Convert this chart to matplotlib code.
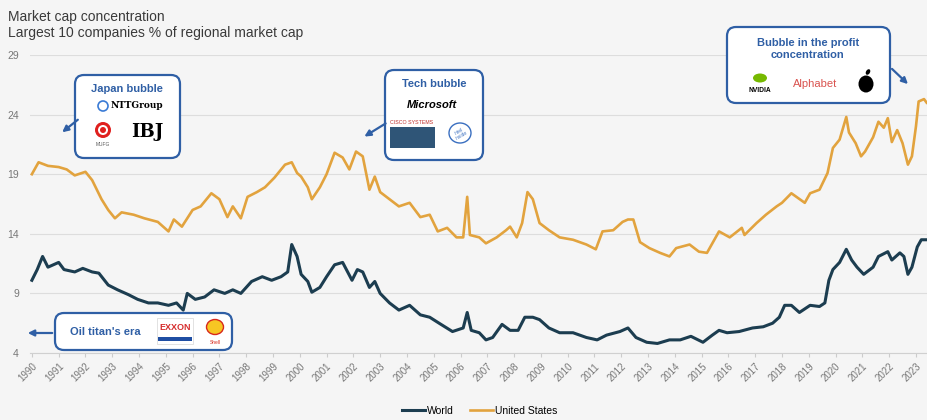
import matplotlib
matplotlib.use("Agg")
import matplotlib.pyplot as plt
from matplotlib.patches import FancyBboxPatch, Circle, Ellipse, Rectangle

plt.rcParams['font.family'] = ['Liberation Sans', 'DejaVu Sans']

# ---- data ----
us_years = [1990.0, 1990.25, 1990.6, 1991.0, 1991.3, 1991.6, 1992.0, 1992.25, 1992.6, 1992.85,
            1993.1, 1993.35, 1993.8, 1994.2, 1994.7, 1995.1, 1995.3, 1995.6, 1996.0, 1996.3,
            1996.7, 1997.0, 1997.3, 1997.5, 1997.8, 1998.05, 1998.4, 1998.7, 1999.05, 1999.45,
            1999.7, 1999.9, 2000.05, 2000.3, 2000.45, 2000.75, 2001.0, 2001.3, 2001.6, 2001.85,
            2002.1, 2002.35, 2002.6, 2002.8, 2003.0, 2003.35, 2003.7, 2004.1, 2004.5, 2004.85,
            2005.15, 2005.5, 2005.85, 2006.1, 2006.25, 2006.35, 2006.7, 2006.95, 2007.35, 2007.7,
            2007.85, 2008.1, 2008.3, 2008.5, 2008.7, 2008.95, 2009.3, 2009.7, 2010.2, 2010.7,
            2011.05, 2011.3, 2011.7, 2012.05, 2012.25, 2012.45, 2012.7, 2013.05, 2013.45, 2013.8,
            2014.05, 2014.55, 2014.9, 2015.2, 2015.65, 2016.05, 2016.5, 2016.6, 2017.05, 2017.4,
            2017.8, 2018.0, 2018.35, 2018.6, 2018.85, 2019.05, 2019.4, 2019.7, 2019.9, 2020.15,
            2020.4, 2020.5, 2020.75, 2020.95, 2021.1, 2021.4, 2021.6, 2021.8, 2021.95, 2022.1,
            2022.3, 2022.5, 2022.7, 2022.85, 2023.0, 2023.1, 2023.3, 2023.4]
us_vals = [19.0, 20.0, 19.7, 19.6, 19.4, 18.9, 19.2, 18.5, 16.9, 16.0,
           15.3, 15.8, 15.6, 15.3, 15.0, 14.2, 15.2, 14.6, 16.0, 16.3,
           17.4, 16.9, 15.4, 16.3, 15.3, 17.1, 17.5, 17.9, 18.7, 19.8,
           20.0, 19.1, 18.8, 17.9, 16.9, 17.9, 19.0, 20.8, 20.4, 19.4,
           20.9, 20.5, 17.7, 18.8, 17.5, 16.9, 16.3, 16.6, 15.4, 15.6,
           14.2, 14.5, 13.7, 13.7, 17.1, 13.9, 13.7, 13.2, 13.7, 14.3,
           14.6, 13.7, 14.9, 17.5, 16.9, 14.9, 14.3, 13.7, 13.5, 13.1,
           12.7, 14.2, 14.3, 15.0, 15.2, 15.2, 13.3, 12.8, 12.4, 12.1,
           12.8, 13.1, 12.5, 12.4, 14.2, 13.7, 14.5, 13.9, 14.9, 15.6,
           16.3, 16.6, 17.4, 17.0, 16.6, 17.4, 17.7, 19.1, 21.2, 21.9,
           23.8, 22.5, 21.6, 20.5, 20.9, 22.1, 23.4, 22.9, 23.7, 21.7,
           22.7, 21.6, 19.8, 20.5, 23.0, 25.1, 25.3, 25.0]

world_years = [1990.0, 1990.2, 1990.4, 1990.6, 1991.0, 1991.2, 1991.6, 1991.9, 1992.25, 1992.5,
               1992.85, 1993.2, 1993.6, 1993.95, 1994.35, 1994.7, 1995.1, 1995.4, 1995.65, 1995.8,
               1996.1, 1996.45, 1996.8, 1997.2, 1997.5, 1997.8, 1998.2, 1998.6, 1998.95, 1999.3,
               1999.55, 1999.7, 1999.9, 2000.05, 2000.3, 2000.45, 2000.75, 2001.0, 2001.3, 2001.6,
               2001.95, 2002.15, 2002.35, 2002.6, 2002.8, 2003.0, 2003.35, 2003.7, 2004.1, 2004.5,
               2004.85, 2005.2, 2005.7, 2006.1, 2006.25, 2006.4, 2006.7, 2006.95, 2007.2, 2007.55,
               2007.85, 2008.15, 2008.4, 2008.7, 2008.95, 2009.3, 2009.7, 2010.2, 2010.7, 2011.1,
               2011.45, 2011.95, 2012.25, 2012.55, 2012.95, 2013.35, 2013.8, 2014.2, 2014.6, 2015.05,
               2015.4, 2015.65, 2015.95, 2016.4, 2016.9, 2017.3, 2017.65, 2017.9, 2018.1, 2018.35,
               2018.65, 2019.05, 2019.4, 2019.6, 2019.75, 2019.9, 2020.15, 2020.4, 2020.6, 2020.8,
               2021.05, 2021.4, 2021.6, 2021.95, 2022.1, 2022.4, 2022.55, 2022.7, 2022.85, 2023.05,
               2023.2, 2023.4]
world_vals = [10.1, 11.0, 12.1, 11.2, 11.6, 11.0, 10.8, 11.1, 10.8, 10.7,
              9.7, 9.3, 8.9, 8.5, 8.2, 8.2, 8.0, 8.2, 7.6, 9.0,
              8.5, 8.7, 9.3, 9.0, 9.3, 9.0, 10.0, 10.4, 10.1, 10.4,
              10.8, 13.1, 12.1, 10.6, 10.0, 9.1, 9.5, 10.4, 11.4, 11.6,
              10.1, 11.0, 10.8, 9.5, 10.0, 9.0, 8.2, 7.6, 8.0, 7.2,
              7.0, 6.5, 5.8, 6.1, 7.4, 5.9, 5.7, 5.1, 5.3, 6.4,
              5.9, 5.9, 7.0, 7.0, 6.8, 6.1, 5.7, 5.7, 5.3, 5.1,
              5.5, 5.8, 6.1, 5.3, 4.9, 4.8, 5.1, 5.1, 5.4, 4.9,
              5.5, 5.9, 5.7, 5.8, 6.1, 6.2, 6.5, 7.0, 8.0, 8.0,
              7.4, 8.0, 7.9, 8.2, 10.1, 11.0, 11.6, 12.7, 11.8, 11.2,
              10.6, 11.2, 12.1, 12.5, 11.8, 12.4, 12.1, 10.6, 11.2, 12.9,
              13.5, 13.5]

year_ticks = list(range(1990, 2024))
y_ticks = [4, 9, 14, 19, 24, 29]

blue = '#2f5fa5'
bg = '#f5f5f5'

# ---- figure ----
fig = plt.figure(figsize=(9.28, 4.2), dpi=100, facecolor=bg)
ax = fig.add_axes([30 / 928, 1 - 353 / 420, 898 / 928, 298 / 420], facecolor=bg)

ax.plot(world_years, world_vals, color='#1c3d50', lw=2.2, label='World', zorder=3)
ax.plot(us_years, us_vals, color='#e2a33e', lw=1.9, label='United States', zorder=3)

ax.set_xlim(1989.93, 2023.45)
ax.set_ylim(4, 29)
ax.set_yticks(y_ticks)
ax.set_xticks(year_ticks)
ax.set_xticklabels([str(y) for y in year_ticks], rotation=45, ha='right',
                   rotation_mode='anchor', fontsize=7, color='#777777')
ax.tick_params(axis='x', length=3, color='#cccccc', pad=3)
ax.tick_params(axis='y', length=0, labelsize=7.5, labelcolor='#777777', pad=8)
ax.grid(axis='y', color='#dddddd', lw=0.8)
ax.set_axisbelow(True)
for s in ['top', 'right', 'left']:
    ax.spines[s].set_visible(False)
ax.spines['bottom'].set_color('#d0d0d0')

fig.legend(loc='lower center', bbox_to_anchor=(0.517, -0.012), ncol=2, frameon=False,
           fontsize=7.5, handlelength=2.2, handletextpad=0.2, columnspacing=1.5)

# ---- overlay in pixel coordinates for titles and call-out boxes ----
ov = fig.add_axes([0, 0, 1, 1], zorder=5)
ov.set_xlim(0, 928)
ov.set_ylim(420, 0)
ov.axis('off')

ov.text(8, 17, 'Market cap concentration', fontsize=10, color='#3a3a3a', va='center')
ov.text(8, 33, 'Largest 10 companies % of regional market cap', fontsize=10,
        color='#3a3a3a', va='center')


def box(x, y, w, h):
    ov.add_patch(FancyBboxPatch((x, y), w, h, boxstyle='round,pad=0,rounding_size=9',
                                fc='white', ec=blue, lw=1.6))


def arrow(x0, y0, x1, y1):
    ov.annotate('', xy=(x1, y1), xytext=(x0, y0),
                arrowprops=dict(arrowstyle='-|>', color=blue, lw=1.6, mutation_scale=9))


# Japan bubble
box(75, 75, 105, 83)
arrow(80, 118, 60, 134)
ov.text(127, 89, 'Japan bubble', fontsize=8, fontweight='bold', color=blue, ha='center', va='center')
ov.add_patch(Circle((103, 106), 5, fc='none', ec='#3a7bd5', lw=1.2))
ov.text(111, 106, 'NTTGroup', fontsize=6.5, fontweight='bold', family='DejaVu Serif', va='center')
ov.add_patch(Circle((103, 130), 8, fc='#e0201e', ec='none'))
ov.add_patch(Circle((103, 130), 5, fc='white', ec='none'))
ov.add_patch(Circle((103, 130), 3, fc='#e0201e', ec='none'))
ov.text(103, 145, 'MUFG', fontsize=3.5, ha='center', va='center', color='#555555')
ov.text(147, 132, 'IBJ', fontsize=13, fontweight='bold', family='DejaVu Serif',
        ha='center', va='center')

# Tech bubble
box(385, 70, 98, 90)
arrow(388, 122, 362, 138)
ov.text(434, 84, 'Tech bubble', fontsize=8, fontweight='bold', color=blue, ha='center', va='center')
ov.text(432, 105, 'Microsoft', fontsize=8, fontweight='bold', style='italic', ha='center', va='center')
ov.text(412, 122, 'CISCO SYSTEMS', fontsize=3.8, color='#c0302b', ha='center', va='center')
ov.add_patch(Rectangle((390, 127), 45, 21, fc='#2f5577', ec='none'))
ov.add_patch(Ellipse((460, 133), 22, 20, fc='none', ec='#3a6fc0', lw=1.0))
ov.text(460, 133, 'intel\ninside', fontsize=3.5, color='#3a6fc0', ha='center', va='center',
        rotation=30, linespacing=0.9)

# Profit concentration
box(727, 27, 163, 76)
arrow(890, 67, 910, 86)
ov.text(808, 49, 'Bubble in the profit\nconcentration', fontsize=8, fontweight='bold',
        color=blue, ha='center', va='center', linespacing=1.15)
ov.add_patch(Ellipse((760, 78), 14, 9, fc='#76b900', ec='none'))
ov.text(760, 91, 'NVIDIA', fontsize=4.8, fontweight='bold', ha='center', va='center')
ov.text(815, 84, 'Alphabet', fontsize=8, color='#d9534f', ha='center', va='center')
ov.add_patch(Ellipse((866, 84), 15, 17, fc='black', ec='none'))
ov.add_patch(Ellipse((868, 72), 4, 6, angle=30, fc='black', ec='none'))

# Oil titan's era
box(55, 313, 177, 37)
arrow(55, 333, 25, 333)
ov.text(105, 332, "Oil titan's era", fontsize=8, fontweight='bold', color=blue,
        ha='center', va='center')
ov.add_patch(Rectangle((157, 318), 36, 26, fc='white', ec='#dddddd', lw=0.6))
ov.text(175, 328, 'EXXON', fontsize=6.5, fontweight='bold', color='#d62d2d', ha='center', va='center')
ov.add_patch(Rectangle((158, 337), 34, 4, fc='#1f4ea3', ec='none'))
ov.add_patch(Ellipse((215, 327), 17, 15, fc='#f7c623', ec='#d8291c', lw=1.0))
ov.text(215, 342, 'Shell', fontsize=3.5, color='#d8291c', ha='center', va='center')

fig.savefig('out.png', dpi=100, facecolor=bg)
